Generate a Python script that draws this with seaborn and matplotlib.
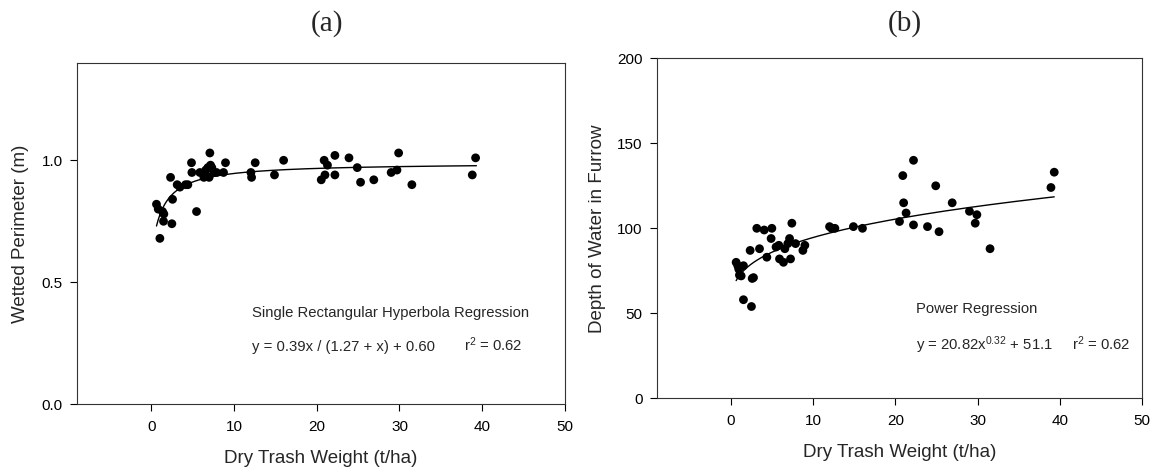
import numpy as np
import pandas as pd
import matplotlib
matplotlib.use("Agg")
import matplotlib.pyplot as plt
import seaborn as sns

# Dry trash weight (t/ha) and wetted perimeter (m)
trash_a = [0.64, 0.85, 1.05, 1.37, 1.53, 1.49, 2.34, 2.5, 2.58, 3.14, 3.47, 4.15, 4.43,
           4.87, 4.92, 5.48, 5.88, 6.37, 6.6, 6.85, 7.0, 7.09, 7.17, 7.33, 7.57, 7.9,
           8.74, 8.98, 12.05, 12.13, 12.57, 14.9, 16.0, 20.55, 20.9, 21.0, 21.3, 22.2,
           22.2, 23.9, 24.9, 25.3, 26.9, 29.0, 29.7, 29.9, 31.5, 38.8, 39.2]
perimeter = [0.82, 0.80, 0.68, 0.79, 0.78, 0.75, 0.93, 0.74, 0.84, 0.90, 0.89, 0.90, 0.90,
             0.99, 0.95, 0.79, 0.95, 0.93, 0.96, 0.97, 0.93, 1.03, 0.98, 0.97, 0.95, 0.95,
             0.95, 0.99, 0.95, 0.93, 0.99, 0.94, 1.00, 0.92, 1.00, 0.94, 0.98, 1.02,
             0.94, 1.01, 0.97, 0.91, 0.92, 0.95, 0.96, 1.03, 0.90, 0.94, 1.01]

# Dry trash weight (t/ha) and depth of water in furrow
trash_b = [0.65, 0.85, 0.97, 1.05, 1.26, 1.54, 1.54, 2.35, 2.51, 2.6, 2.76, 3.16, 3.49,
           4.06, 4.38, 4.9, 4.99, 5.5, 5.84, 5.92, 6.4, 6.57, 6.93, 7.14, 7.26, 7.42,
           7.87, 8.76, 9.0, 12.0, 12.25, 12.65, 14.9, 16.0, 20.5, 20.9, 21.0, 21.3,
           22.2, 22.2, 23.9, 24.9, 25.3, 26.9, 29.0, 29.9, 29.7, 31.5, 38.9, 39.3]
depth = [80, 78, 76, 72.5, 72, 78, 58, 87, 54, 70.5, 71, 100, 88,
         99, 83, 94, 100, 89, 90, 82, 80, 88, 91, 94, 82, 103,
         91, 87, 90, 101, 100, 100, 101, 100, 104, 131, 115, 109,
         140, 102, 101, 125, 98, 115, 110, 108, 103, 88, 124, 133]

# Regression coefficients
hyp_a, hyp_b, hyp_y0 = 0.39, 1.27, 0.60
pow_a, pow_b, pow_y0 = 20.82, 0.32, 51.1

x_ticks = [0, 10, 20, 30, 40, 50]
y_ticks_a = [0.0, 0.5, 1.0]
y_ticks_b = [0, 50, 100, 150, 200]

sns.set_theme(style="ticks")
plt.rcParams["font.family"] = ["Liberation Sans", "DejaVu Sans"]
plt.rcParams["mathtext.fontset"] = "custom"
plt.rcParams["mathtext.rm"] = "Liberation Sans"
plt.rcParams["mathtext.it"] = "Liberation Sans:italic"

fig = plt.figure(figsize=(11.57, 4.72), dpi=100)
ax_a = fig.add_axes([0.0663, 0.1434, 0.4220, 0.7238])
ax_b = fig.add_axes([0.5676, 0.1561, 0.4197, 0.7204])

df_a = pd.DataFrame({"x": trash_a, "y": perimeter})
df_b = pd.DataFrame({"x": trash_b, "y": depth})

xa_fit = np.linspace(min(trash_a), max(trash_a) + 0.1, 200)
ya_fit = hyp_a * xa_fit / (hyp_b + xa_fit) + hyp_y0
xb_fit = np.linspace(min(trash_b), max(trash_b), 200)
yb_fit = pow_a * xb_fit ** pow_b + pow_y0

sns.scatterplot(data=df_a, x="x", y="y", ax=ax_a, color="black", s=40,
                edgecolor="none", zorder=3)
sns.lineplot(x=xa_fit, y=ya_fit, ax=ax_a, color="black", linewidth=1.0, zorder=2)
sns.scatterplot(data=df_b, x="x", y="y", ax=ax_b, color="black", s=40,
                edgecolor="none", zorder=3)
sns.lineplot(x=xb_fit, y=yb_fit, ax=ax_b, color="black", linewidth=1.0, zorder=2)

for ax in (ax_a, ax_b):
    ax.set_xlim(-9, 50)
    ax.set_xticks(x_ticks)
    ax.set_xticklabels([str(t) for t in x_ticks])
    ax.tick_params(axis="both", direction="out", length=5, width=0.8,
                   colors="black", labelsize=11)
    ax.tick_params(axis="x", pad=6.5)
    ax.tick_params(axis="y", pad=5)
    for sp in ax.spines.values():
        sp.set_visible(True)
        sp.set_linewidth(0.8)
        sp.set_color("#333333")
    ax.set_xlabel("Dry Trash Weight (t/ha)", fontsize=13.5, labelpad=11)

ax_a.set_ylim(0, 1.4)
ax_a.set_yticks(y_ticks_a)
ax_a.set_yticklabels([f"{t:.1f}" for t in y_ticks_a])
ax_a.set_ylabel("Wetted Perimeter (m)", fontsize=13.5)
ax_a.yaxis.set_label_coords(-0.097, 0.5)

ax_b.set_ylim(0, 200)
ax_b.set_yticks(y_ticks_b)
ax_b.set_yticklabels([str(t) for t in y_ticks_b])
ax_b.set_ylabel("Depth of Water in Furrow", fontsize=13.5)
ax_b.yaxis.set_label_coords(-0.105, 0.5)

ax_a.text(12.2, 0.358, "Single Rectangular Hyperbola Regression", fontsize=10.7)
ax_a.text(12.2, 0.219, f"y = {hyp_a:.2f}x / ({hyp_b:.2f} + x) + {hyp_y0:.2f}", fontsize=10.7)
ax_a.text(37.85, 0.219, r"r$^{\mathregular{2}}$ = 0.62", fontsize=10.7)

ax_b.text(22.47, 50.3, "Power Regression", fontsize=10.7)
ax_b.text(22.47, 28.4,
          rf"y = {pow_a:.2f}x$^{{\mathregular{{{pow_b:.2f}}}}}$ + {pow_y0:.1f}",
          fontsize=10.7)
ax_b.text(41.5, 28.4, r"r$^{\mathregular{2}}$ = 0.62", fontsize=10.7)

fig.text(0.2826, 0.951, "(a)", ha="center", va="center", fontsize=21,
         family=["Liberation Serif", "DejaVu Serif"])
fig.text(0.7820, 0.951, "(b)", ha="center", va="center", fontsize=21,
         family=["Liberation Serif", "DejaVu Serif"])

fig.savefig("out.png", dpi=100)
